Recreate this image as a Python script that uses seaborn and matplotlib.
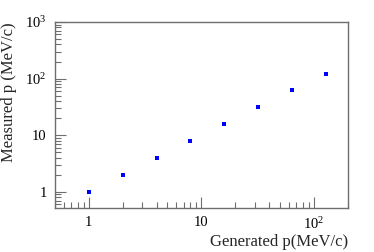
import matplotlib
matplotlib.use("Agg")
import matplotlib.pyplot as plt
import seaborn as sns
import pandas as pd
from matplotlib.ticker import FixedLocator, FixedFormatter, LogLocator, NullFormatter

generated = [1, 2, 4, 8, 16, 32, 64, 128]
measured = [1, 2, 4, 8, 16, 32, 64, 118]
xticks = [1, 10, 100]
xticklabels = ["1", "10", r"$10^{2}$"]
yticks = [1, 10, 100, 1000]
yticklabels = ["1", "10", r"$10^{2}$", r"$10^{3}$"]

sns.set_style("white")
plt.rcParams["font.family"] = ["Liberation Serif", "DejaVu Serif"]
plt.rcParams["mathtext.fontset"] = "custom"
plt.rcParams["mathtext.rm"] = "Liberation Serif"
plt.rcParams["mathtext.it"] = "Liberation Serif"

df = pd.DataFrame({"gen": generated, "meas": measured})

fig = plt.figure(figsize=(3.74, 2.52), dpi=100)
ax = fig.add_axes([0.147, 0.175, 0.783, 0.738])
sns.scatterplot(data=df, x="gen", y="meas", marker="s", color="#0000ff",
                s=9, linewidth=0, ax=ax)
ax.set_xscale("log")
ax.set_yscale("log")
ax.set_xlim(0.5, 201)
ax.set_ylim(0.52, 1000)

ax.xaxis.set_major_locator(FixedLocator(xticks))
ax.xaxis.set_major_formatter(FixedFormatter(xticklabels))
ax.yaxis.set_major_locator(FixedLocator(yticks))
ax.yaxis.set_major_formatter(FixedFormatter(yticklabels))
ax.xaxis.set_minor_locator(LogLocator(base=10, subs=range(2, 10)))
ax.yaxis.set_minor_locator(LogLocator(base=10, subs=range(2, 10)))
ax.xaxis.set_minor_formatter(NullFormatter())
ax.yaxis.set_minor_formatter(NullFormatter())

for s in ax.spines.values():
    s.set_color("#6e6e6e")
    s.set_linewidth(1.0)
ax.tick_params(which="both", direction="in", top=False, right=False,
               left=True, bottom=True, colors="#6e6e6e", labelcolor="black",
               width=0.8, labelsize=10.5)
ax.tick_params(which="major", length=8, pad=6)
ax.tick_params(which="minor", length=4)

ax.set_xlabel("Generated p(MeV/c)", fontsize=12, ha="right", x=1.0, labelpad=1)
ax.set_ylabel("Measured p (MeV/c)", fontsize=12, ha="right", y=1.0, labelpad=6)

fig.savefig("out.png", dpi=100)
